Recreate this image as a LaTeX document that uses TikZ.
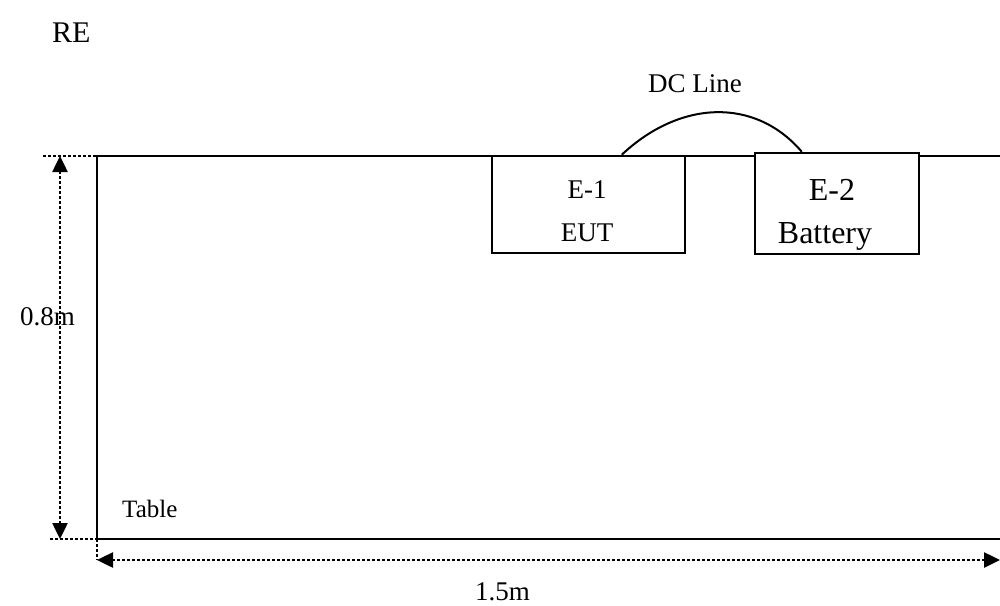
\documentclass[tikz,border=0pt]{standalone}
\usepackage{fontspec}
\setmainfont{Liberation Serif}
\usetikzlibrary{positioning,arrows.meta,calc}

\begin{document}
\begin{tikzpicture}[x=1pt,y=-1pt,>={Triangle[length=16pt,width=15pt]},
  solid line/.style={line width=2.5pt},
  dim line/.style={line width=2.5pt,dash pattern=on 2.5pt off 2.5pt},
  equip/.style={draw,line width=2.5pt,fill=white,inner sep=0pt},
  txt/.style={inner sep=0pt,anchor=base,font=\fontsize{27}{32}\selectfont}]
\useasboundingbox (0,0) rectangle (1000,605);
% table edges
\coordinate (tl) at (97,156);
\coordinate (bl) at (97,539);
\coordinate (tr) at (1000,156);
\coordinate (br) at (1000,539);
\draw[solid line] (tr) -- (tl) -- (bl) -- (br);
% equipment
\node[equip,minimum width=193pt,minimum height=97pt] (eut) at (588.5,204.5) {};
\node[equip,minimum width=164pt,minimum height=101pt] (batt) at (837,203.5) {};
\node[txt] (eutA) at (587,198) {E-1};
\node[txt] (eutB) at (587,241) {EUT};
\node[txt,font=\fontsize{32}{36}\selectfont] (battA) at (832,200) {E-2};
\node[txt,font=\fontsize{32}{36}\selectfont] (battB) at (825,243) {Battery};
% DC line
\coordinate (dc1) at ($(eut.north west)+(131,0)$);
\coordinate (dc2) at ($(batt.north west)+(48,0)$);
\draw[line width=2pt] (dc1) .. controls (680,100) and (755,97) .. (dc2);
\node[txt,anchor=base west] (dcl) at (648,92) {DC Line};
% dimensions
\coordinate (v0) at (60,156);
\coordinate (v1) at (60,539);
\coordinate (h0) at (97,560);
\coordinate (h1) at (1000,560);
\draw[dim line] (43,156) -- (tl);
\draw[dim line] (50,539) -- (bl);
\draw[dim line] (bl) -- (h0);
\draw[dim line,<->] (v0) -- (v1);
\draw[dim line,<->] (h0) -- (h1);
\node[txt,anchor=base west] (hgt) at (20,325) {0.8m};
\node[txt,anchor=base west] (wid) at (475,600) {1.5m};
% labels
\node[txt,anchor=base west,font=\fontsize{30}{36}\selectfont] (re) at (52,42) {RE};
\node[txt,anchor=base west,font=\fontsize{25}{30}\selectfont] (tbl) at (122,517) {Table};
\end{tikzpicture}
\end{document}
